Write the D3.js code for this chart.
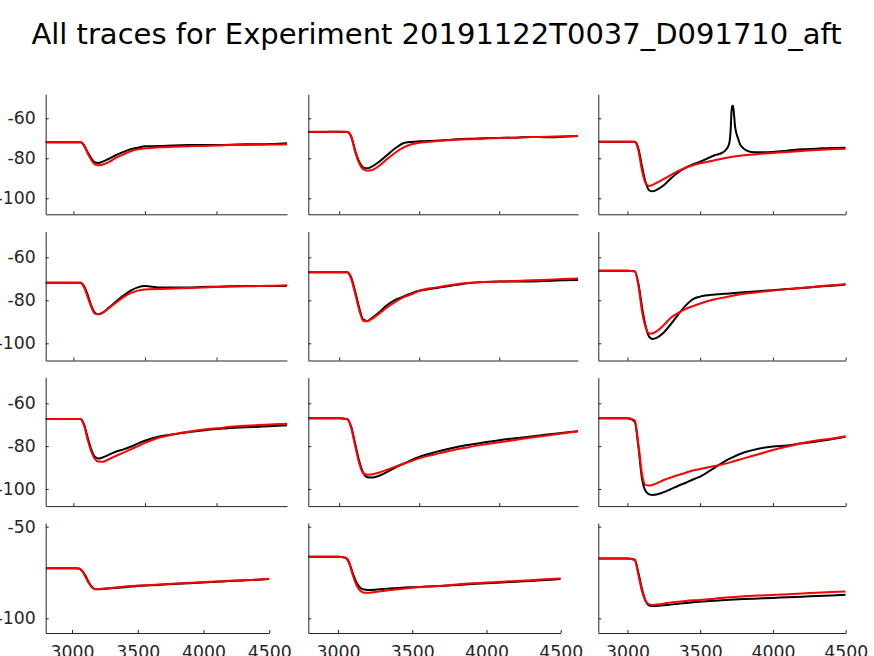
<!DOCTYPE html>
<html>
<head>
<meta charset="utf-8">
<script src="https://cdn.jsdelivr.net/npm/d3@7"></script>
<style>
  body { margin: 0; background: #fff; }
  svg { display: block; font-family: "DejaVu Sans", sans-serif; }
</style>
</head>
<body>
<svg id="chart"></svg>
<script>
// time axis shared by every trace (ms)
var times = [2800, 2900, 3000, 3050, 3075, 3100, 3125, 3150, 3175, 3200, 3250, 3300, 3350,
             3400, 3450, 3500, 3600, 3700, 3800, 3900, 4000, 4100, 4200, 4300, 4400, 4500];

// recorded traces (black) and fitted traces (red), panel by panel, row-wise
var trace1 = [-72,-72,-72,-72,-73.5,-77,-80,-82,-82.3,-81.8,-80.2,-78.3,-76.8,-75.5,-74.7,-74.0,-73.9,-73.6,-73.4,-73.3,-73.3,-73.2,-73.0,-73.0,-72.8,-72.5];
var fit1   = [-72,-72,-72,-72,-73.8,-77.5,-80.8,-83,-83.5,-83.2,-81.8,-79.6,-78.0,-76.5,-75.5,-75.0,-74.5,-74.2,-74.0,-73.8,-73.6,-73.4,-73.3,-73.2,-73.1,-73.0];
var trace2 = [-66.8,-66.8,-66.7,-66.8,-69.0,-76.2,-81.7,-84.5,-85,-84.3,-81.7,-78.3,-75,-72.5,-71.8,-71.5,-71.2,-70.7,-70.2,-70.0,-69.8,-69.7,-69.3,-69.5,-69.2,-68.8];
var fit2   = [-66.7,-66.7,-66.7,-66.7,-69.3,-77.0,-82.5,-85.5,-86.2,-86,-83.7,-80.3,-77.2,-74.7,-73,-72.2,-71.5,-70.8,-70.5,-70.2,-69.8,-69.7,-69.4,-69.2,-69.0,-68.8];
var trace3 = [-71.7,-71.7,-71.7,-71.7,-75,-84,-92,-96,-96.5,-95.8,-93.5,-90,-87,-84.7,-83,-81.7,-78.5,-72.5,-75.8,-77,-76.8,-76.2,-75.5,-75.2,-74.8,-74.7];
var fit3   = [-71.7,-71.7,-71.7,-71.7,-76,-86,-92.5,-93.8,-93.2,-92.3,-90.3,-88.3,-86.3,-84.8,-83.5,-82.5,-81,-79.5,-78.5,-77.8,-77.3,-76.8,-76.3,-75.8,-75.5,-75.2];
// spontaneous event in panel 3
var spikeTimes = [3650, 3680, 3700, 3710, 3715, 3720, 3725, 3730, 3740, 3760, 3780, 3850];
var spikeVals  = [-77.3, -75.5, -72.5, -65, -57, -53.7, -53.8, -56, -64.2, -70, -73.8, -76.8];

var trace4 = [-71.8,-71.8,-71.8,-71.8,-73.5,-77.5,-82.5,-85.8,-86.5,-86.0,-83.3,-80.5,-77.8,-75.5,-74.0,-73.4,-74.0,-74.0,-74.0,-73.8,-73.7,-73.5,-73.4,-73.3,-73.4,-73.2];
var fit4   = [-71.8,-71.8,-71.8,-71.8,-74,-78.5,-83,-86.2,-86.5,-85.8,-83.5,-81.0,-78.5,-76.7,-75.5,-75.0,-74.7,-74.5,-74.3,-74.0,-73.8,-73.6,-73.5,-73.4,-73.2,-73.0];
var trace5 = [-67,-67,-67,-67,-69.5,-76,-83.5,-89,-89.6,-88.5,-85.6,-82.2,-79.8,-78.3,-76.8,-75.6,-74.4,-73.2,-72.1,-71.5,-71.2,-71.2,-71.2,-71.0,-70.7,-70.5];
var fit5   = [-67,-67,-67,-67,-70,-77,-84.5,-89.5,-89.8,-88.8,-86.2,-83.2,-80.7,-78.6,-77.2,-75.6,-74.1,-72.9,-72.0,-71.5,-71.3,-71.0,-70.7,-70.4,-70.1,-69.9];
var trace6 = [-66.3,-66.3,-66.3,-66.5,-72,-83,-92,-97,-98,-97.5,-95,-91,-86.5,-82.5,-79.5,-78.3,-77.3,-76.8,-76.3,-75.8,-75.3,-74.8,-74.3,-73.7,-73.2,-72.7];
var fit6   = [-66.3,-66.3,-66.3,-66.5,-73,-85,-92.5,-95.5,-95.3,-94.5,-91.5,-88,-85.8,-84,-82.7,-81.5,-79.5,-78.2,-77,-76.2,-75.5,-74.8,-74.2,-73.6,-73,-72.5];

var trace7 = [-67.3,-67.3,-67.3,-67.3,-70,-76,-81.5,-85,-85.8,-85.4,-84,-82.5,-81.5,-80.3,-78.8,-77.5,-75.5,-74.5,-73.5,-72.7,-72.0,-71.5,-71.2,-70.9,-70.6,-70.2];
var fit7   = [-67.3,-67.3,-67.3,-67.3,-70.5,-77,-82.5,-86,-87.2,-87.3,-86,-84.5,-83,-81.5,-80,-78.5,-76,-74.5,-73.3,-72.3,-71.7,-71.0,-70.5,-70.1,-69.8,-69.5];
var trace8 = [-67,-67,-67,-67.5,-71,-79,-87,-92.5,-94.5,-94.7,-93.8,-92,-90,-88.3,-86.5,-85,-82.8,-81,-79.5,-78.3,-77.2,-76.3,-75.5,-74.6,-73.8,-73];
var fit8   = [-67,-67,-67,-67.3,-71.5,-80,-88,-92.6,-93.4,-93.2,-92.3,-91,-89.6,-88.2,-87,-85.7,-83.8,-82,-80.6,-79.3,-78.2,-77.1,-76.0,-75.0,-74.0,-73.0];
var trace9 = [-67,-67,-67,-68.5,-80,-95,-101,-102.5,-102.8,-102.6,-101.5,-100,-98.5,-97.1,-95.6,-94.2,-90,-86,-83,-81.2,-80.2,-79.7,-78.7,-77.8,-76.8,-75.6];
var fit9   = [-67,-67,-67,-68,-79,-93,-98.2,-98.4,-98,-97.4,-95.8,-94.6,-93.5,-92.4,-91.4,-90.7,-89.3,-87.7,-85.7,-83.8,-81.8,-80.2,-78.7,-77.4,-76.5,-75.4];

var trace10 = [-72.7,-72.7,-72.7,-72.8,-74,-76.5,-80,-82.7,-84.1,-84.2,-83.9,-83.6,-83.3,-83.0,-82.7,-82.4,-82.0,-81.6,-81.2,-80.8,-80.4,-80.1,-79.7,-79.4,-79.0,-78.6];
var fit10   = [-72.7,-72.7,-72.7,-72.7,-74,-77,-80.5,-83,-84,-84,-83.7,-83.4,-83.0,-82.7,-82.4,-82.1,-81.8,-81.4,-81.0,-80.6,-80.2,-79.9,-79.5,-79.2,-78.9,-78.4];
var trace11 = [-66.4,-66.4,-66.4,-67,-69.5,-75.5,-80.5,-83.3,-84.3,-84.5,-84.4,-84.0,-83.7,-83.4,-83.2,-83.0,-82.7,-82.3,-81.8,-81.3,-80.9,-80.5,-80.0,-79.6,-79.1,-78.6];
var fit11   = [-66.4,-66.4,-66.4,-67,-70,-76.5,-82,-85,-86,-86.1,-85.6,-85.1,-84.6,-84.2,-83.7,-83.3,-82.7,-82.2,-81.5,-80.9,-80.5,-80.0,-79.6,-79.2,-78.7,-78.2];
var trace12 = [-67.3,-67.3,-67.3,-68,-75,-84,-90.5,-93,-93.3,-93.3,-92.9,-92.5,-92.0,-91.6,-91.2,-90.9,-90.4,-89.9,-89.5,-89.2,-88.9,-88.5,-88.2,-87.8,-87.5,-87.1];
var fit12   = [-67.3,-67.3,-67.3,-68.2,-76.2,-85.1,-90.5,-92.4,-92.7,-92.5,-92.0,-91.3,-90.9,-90.5,-90.2,-90.0,-89.3,-88.5,-88.0,-87.6,-87.3,-86.8,-86.4,-86.0,-85.6,-85.3];

var xTicks = [3000, 3500, 4000, 4500];
var yTicks = [-100, -80, -60];
var yTicksLast = [-100, -50];
var titleText = "All traces for Experiment 20191122T0037_D091710_aft";

var traces = [trace1, trace2, trace3, trace4, trace5, trace6, trace7, trace8, trace9, trace10, trace11, trace12];
var fits = [fit1, fit2, fit3, fit4, fit5, fit6, fit7, fit8, fit9, fit10, fit11, fit12];

var W = 874, H = 656;
var colL = [45.7, 308.3, 598.3];
var colR = [287, 578, 845.7];
var colRLast = [269.3, 560.7, 845.7];   // bottom row axes are narrower in cols 1-2
var rowT = [94.3, 231.5, 377.6, 523];
var rowB = [214.3, 360.5, 506.1, 633];
var axisColor = "#262626";
var plainNum = function(d) { return String(d); };   // ascii hyphen, not the unicode minus
var noLabel = function() { return ""; };

var svg = d3.select("#chart").attr("width", W).attr("height", H);

svg.append("text")
   .attr("x", 436.5).attr("y", 44)
   .attr("text-anchor", "middle")
   .attr("font-size", "29px")
   .attr("fill", "#000")
   .text(titleText);

var defs = svg.append("defs");

traces.forEach(function(tr, i) {
  var r = Math.floor(i / 3), c = i % 3;
  var xDom = (r < 3 && c < 2) ? [2807, 4492] : [2800, 4500];
  var x = d3.scaleLinear().domain(xDom).range([colL[c], r == 3 ? colRLast[c] : colR[c]]);
  var y = d3.scaleLinear().domain([-108, -48]).range([rowB[r], rowT[r]]);

  defs.append("clipPath").attr("id", "clip" + i)
      .append("rect")
      .attr("x", x.range()[0]).attr("y", y.range()[1])
      .attr("width", x.range()[1] - x.range()[0])
      .attr("height", y.range()[0] - y.range()[1]);

  var g = svg.append("g");

  var recPts = times.map(function(t, k) { return [t, tr[k]]; });
  if (i == 2) {
    var s0 = spikeTimes[0], s1 = spikeTimes[spikeTimes.length - 1];
    recPts = recPts.filter(function(p) { return p[0] < s0 || p[0] > s1; })
                   .concat(spikeTimes.map(function(t, k) { return [t, spikeVals[k]]; }))
                   .sort(function(a, b) { return a[0] - b[0]; });
  }
  var fitPts = times.map(function(t, k) { return [t, fits[i][k]]; });

  var line = d3.line()
               .x(function(d) { return x(d[0]); })
               .y(function(d) { return y(d[1]); })
               .curve(d3.curveMonotoneX);

  var plot = g.append("g").attr("clip-path", "url(#clip" + i + ")");
  plot.append("path").attr("d", line(recPts))
      .attr("fill", "none").attr("stroke", "#000").attr("stroke-width", 2);
  plot.append("path").attr("d", line(fitPts))
      .attr("fill", "none").attr("stroke", "#ff0000").attr("stroke-width", 2);

  var xa = d3.axisBottom(x)
             .tickValues(xTicks.filter(function(t) { return t >= xDom[0] && t <= xDom[1]; }))
             .tickSizeInner(-3).tickSizeOuter(0).tickPadding(13)
             .tickFormat(r == 3 ? plainNum : noLabel);
  var ya = d3.axisLeft(y)
             .tickValues(r == 3 ? yTicksLast : yTicks)
             .tickSizeInner(-3).tickSizeOuter(0).tickPadding(10)
             .tickFormat(c == 0 ? plainNum : noLabel);

  var gx = g.append("g").attr("transform", "translate(0," + rowB[r] + ")").call(xa);
  var gy = g.append("g").attr("transform", "translate(" + colL[c] + ",0)").call(ya);
  [gx, gy].forEach(function(ax) {
    ax.select(".domain").attr("stroke", axisColor);
    ax.selectAll(".tick line").attr("stroke", axisColor);
    ax.selectAll(".tick text").attr("fill", axisColor)
      .attr("font-size", "17.3px").attr("font-family", "DejaVu Sans, sans-serif");
  });
});
</script>
</body>
</html>
